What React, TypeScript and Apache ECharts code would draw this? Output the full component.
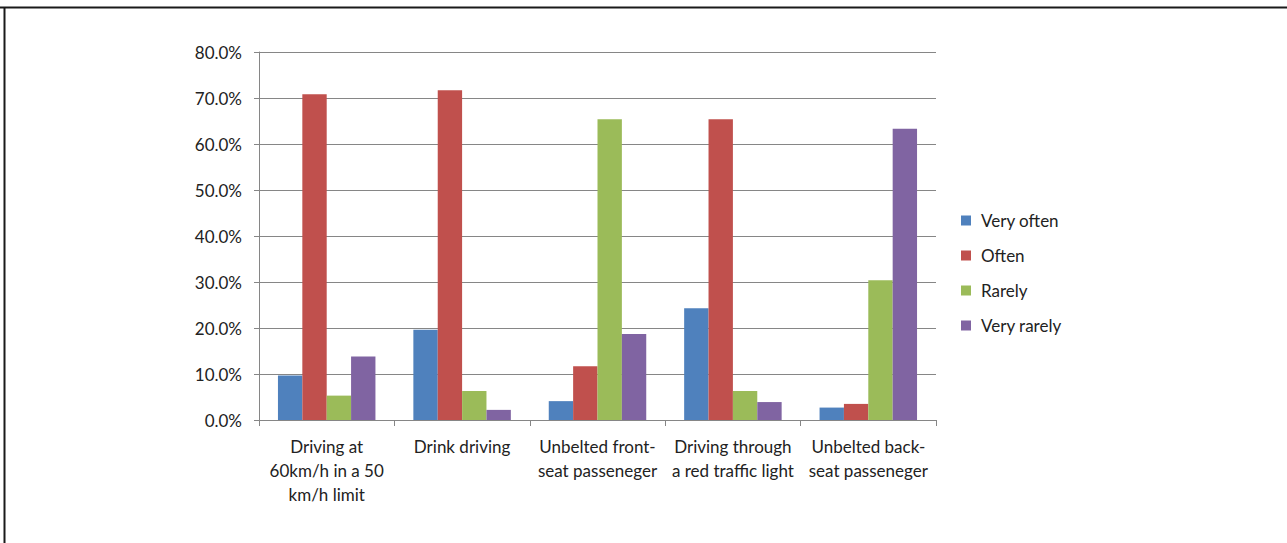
import React, { useEffect, useRef } from "react";
import * as echarts from "echarts";

const categories = [
  "Driving at\n60km/h in a 50\nkm/h limit",
  "Drink driving",
  "Unbelted front-\nseat passeneger",
  "Driving through\na red traffic light",
  "Unbelted back-\nseat passeneger",
];
const seriesNames = ["Very often", "Often", "Rarely", "Very rarely"];
const veryOften = [9.7, 19.6, 4.1, 24.3, 2.7];
const often = [70.8, 71.7, 11.7, 65.4, 3.5];
const rarely = [5.3, 6.3, 65.4, 6.3, 30.4];
const veryRarely = [13.8, 2.2, 18.7, 3.9, 63.3];
const colors = ["#4F81BD", "#C0504D", "#9BBB59", "#8064A2"];

export default function App() {
  const ref = useRef<HTMLDivElement>(null);
  useEffect(() => {
    if (!ref.current) return;
    const chart = echarts.init(ref.current, null, { renderer: "svg" });
    const font = "Lato, 'Open Sans', sans-serif";
    const values = [veryOften, often, rarely, veryRarely];
    chart.setOption({
      animation: false,
      backgroundColor: "#fff",
      textStyle: { fontFamily: font },
      grid: { left: 259, top: 52, right: 351, bottom: 123, containLabel: false },
      legend: {
        orient: "vertical",
        left: 961,
        top: 212,
        padding: 0,
        itemWidth: 10,
        itemHeight: 10,
        itemGap: 18,
        icon: "rect",
        data: seriesNames,
        textStyle: { fontFamily: font, fontSize: 17, lineHeight: 16, color: "#222", padding: [0, 0, 0, 5] },
      },
      xAxis: {
        type: "category",
        data: categories,
        axisLine: { lineStyle: { color: "#868686", width: 1 } },
        axisTick: { show: true, length: 6, alignWithLabel: false, lineStyle: { color: "#868686" } },
        axisLabel: {
          interval: 0,
          margin: 14,
          fontSize: 17,
          lineHeight: 24,
          color: "#222",
          fontFamily: font,
        },
      },
      yAxis: {
        type: "value",
        min: 0,
        max: 80,
        interval: 10,
        axisLine: { show: true, lineStyle: { color: "#868686", width: 1 } },
        axisTick: { show: true, length: 5, lineStyle: { color: "#868686" } },
        splitLine: { lineStyle: { color: "#868686", width: 1 } },
        axisLabel: {
          formatter: (v: number) => v.toFixed(1) + "%",
          fontSize: 17,
          margin: 17,
          color: "#222",
          fontFamily: font,
        },
      },
      series: seriesNames.map((name, i) => ({
        name,
        type: "bar",
        data: values[i],
        barGap: "0%",
        barCategoryGap: "28%",
        itemStyle: { color: colors[i] },
      })),
      graphic: [
        { type: "line", shape: { x1: 0, y1: 7.5, x2: 1287, y2: 7.5 }, style: { stroke: "#1a1a1a", lineWidth: 2 } },
        { type: "line", shape: { x1: 4.5, y1: 7, x2: 4.5, y2: 543 }, style: { stroke: "#1a1a1a", lineWidth: 2 } },
      ],
    });
    return () => chart.dispose();
  }, []);
  return (
    <div
      ref={ref}
      style={{ position: "absolute", left: 0, top: 0, width: 1287, height: 543 }}
    />
  );
}
